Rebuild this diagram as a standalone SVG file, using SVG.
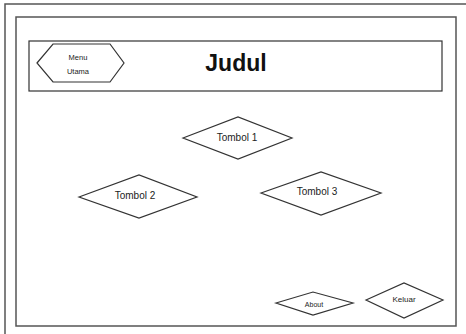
<svg xmlns="http://www.w3.org/2000/svg" width="466" height="334" viewBox="0 0 466 334">
  <style>
    .frame { fill: none; stroke: #555; stroke-width: 1.5; }
    .shape { fill: #fff; stroke: #333; stroke-width: 1.2; }
    .lbl { font-family: "Liberation Sans", Arial, sans-serif; fill: #222; text-anchor: middle; }
    .title { font-family: "Liberation Sans", Arial, sans-serif; font-weight: bold; fill: #111; text-anchor: middle; font-size: 23px; }
  </style>
  <rect width="466" height="334" fill="#fff"/>
  <!-- page frames -->
  <rect class="frame" x="5" y="4" width="470" height="340"/>
  <rect class="frame" x="16" y="17" width="440" height="309"/>

  <g id="header">
    <rect class="shape" x="29" y="41" width="413" height="50" stroke-width="1.3"/>
    <text class="title" x="236" y="71">Judul</text>
  </g>

  <g id="menu-utama">
    <polygon class="shape" points="37,63 53,44 110,44 124,63 110,82 53,82"/>
    <text class="lbl" x="78" y="60" font-size="7.5">Menu</text>
    <text class="lbl" x="78" y="74" font-size="7.5">Utama</text>
  </g>

  <g id="tombol-1">
    <polygon class="shape" points="183,138 238,117 292,138 238,159"/>
    <text class="lbl" x="237" y="141" font-size="10">Tombol 1</text>
  </g>

  <g id="tombol-2">
    <polygon class="shape" points="79,197 139,175 197,197 139,218"/>
    <text class="lbl" x="135" y="199" font-size="10">Tombol 2</text>
  </g>

  <g id="tombol-3">
    <polygon class="shape" points="261,193 321,172 381,193 321,215"/>
    <text class="lbl" x="317" y="195" font-size="10">Tombol 3</text>
  </g>

  <g id="about">
    <polygon class="shape" points="276,303 313,292 353,303 313,315"/>
    <text class="lbl" x="314" y="307" font-size="7">About</text>
  </g>

  <g id="keluar">
    <polygon class="shape" points="366,300 404,283 443,300 404,318"/>
    <text class="lbl" x="404" y="302" font-size="8">Keluar</text>
  </g>

  <g id="connectors"></g>
</svg>
